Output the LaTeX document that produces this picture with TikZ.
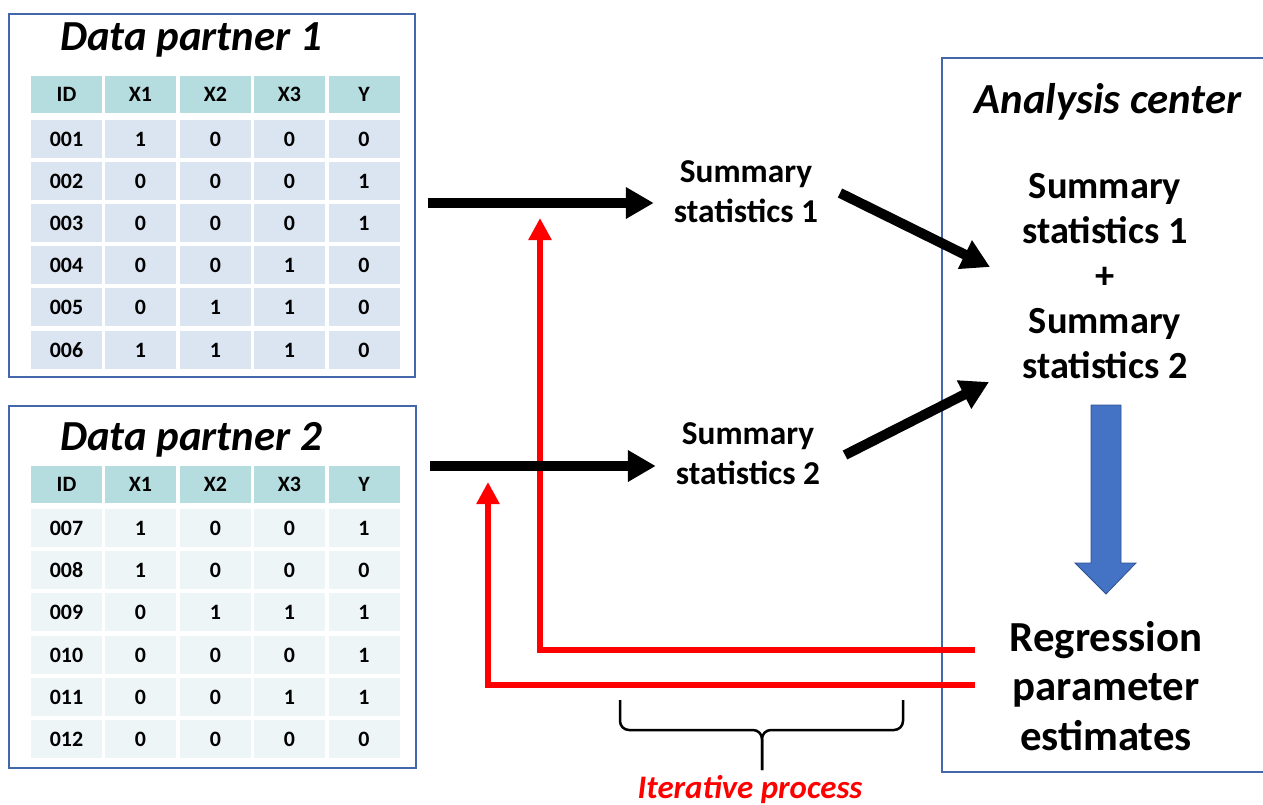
\documentclass[tikz,border=0pt]{standalone}
\usepackage{fontspec}
\setmainfont{Carlito}
\usetikzlibrary{arrows.meta}
\definecolor{boxblue}{HTML}{4466AA}
\definecolor{hdrfill}{HTML}{B5DCDE}
\definecolor{rowA}{HTML}{DBE5F1}
\definecolor{rowB}{HTML}{EEF5F7}
\definecolor{bigarrow}{HTML}{4472C4}
\definecolor{bigarrowline}{HTML}{2F528F}
\definecolor{iterred}{HTML}{FF0000}
\begin{document}
\begin{tikzpicture}[x=1bp,y=-1bp,
  partner/.style={draw=boxblue, line width=1.6bp},
  tcell/.style={minimum width=71bp, inner sep=0pt, font=\fontsize{22}{24}\selectfont\bfseries},
  hdr/.style={tcell, fill=hdrfill, minimum height=37bp},
  cellA/.style={tcell, fill=rowA, minimum height=38bp},
  cellB/.style={tcell, fill=rowB, minimum height=38bp},
  ptitle/.style={font=\fontsize{43}{50}\selectfont\bfseries\itshape, inner sep=0pt},
  midtext/.style={align=center, font=\fontsize{33.5}{40}\selectfont\bfseries, inner sep=0pt},
  blk/.style={line width=10bp, -{Triangle[length=28bp,width=30bp]}},
  redarr/.style={draw=iterred, line width=6bp, -{Triangle[length=22bp,width=22bp]}},
]
\useasboundingbox (0,0) rectangle (1263,805);
\clip (0,0) rectangle (1263,805);

% partner boxes
\draw[partner] (9,14) rectangle (415,377);
\draw[partner] (9,406) rectangle (416,768);
\node[ptitle] (title1) at (191,40) {Data partner 1};
\node[ptitle] (title2) at (191,440) {Data partner 2};

% table 1
\foreach \t/\c/\x in {ID/0/66.5, X1/1/140.5, X2/2/215.5, X3/3/289.5, Y/4/364}
  \node[hdr] (t1-h-\c) at (\x,94.5) {\t};
\foreach \r/\y/\id/\a/\b/\c/\d in {1/139/001/1/0/0/0, 2/181/002/0/0/0/1, 3/223/003/0/0/0/1,
    4/265/004/0/0/1/0, 5/307/005/0/1/1/0, 6/350/006/1/1/1/0} {
  \node[cellA] (t1-\r-0) at (66.5,\y) {\id};
  \node[cellA] (t1-\r-1) at (140.5,\y) {\a};
  \node[cellA] (t1-\r-2) at (215.5,\y) {\b};
  \node[cellA] (t1-\r-3) at (289.5,\y) {\c};
  \node[cellA] (t1-\r-4) at (364,\y) {\d};
}

% table 2
\foreach \t/\c/\x in {ID/0/66.5, X1/1/140.5, X2/2/215.5, X3/3/289.5, Y/4/364}
  \node[hdr] (t2-h-\c) at (\x,484) {\t};
\foreach \r/\y/\id/\a/\b/\c/\d in {1/528/007/1/0/0/1, 2/570/008/1/0/0/0, 3/612/009/0/1/1/1,
    4/655/010/0/0/0/1, 5/697/011/0/0/1/1, 6/739/012/0/0/0/0} {
  \node[cellB] (t2-\r-0) at (66.5,\y) {\id};
  \node[cellB] (t2-\r-1) at (140.5,\y) {\a};
  \node[cellB] (t2-\r-2) at (215.5,\y) {\b};
  \node[cellB] (t2-\r-3) at (289.5,\y) {\c};
  \node[cellB] (t2-\r-4) at (364,\y) {\d};
}

% middle summaries
\node[midtext] (ss1) at (746,192) {Summary\\statistics 1};
\node[midtext] (ss2) at (748,454) {Summary\\statistics 2};

% analysis center
\draw[partner] (942,58) rectangle (1290,772);
\node[ptitle] (ac) at (1108,102) {Analysis center};
\node[align=center, inner sep=0pt, font=\fontsize{38.5}{45}\selectfont\bfseries] (agg) at (1105,276)
  {Summary\\statistics 1\\+\\Summary\\statistics 2};
\node[align=center, inner sep=0pt, font=\fontsize{43}{50}\selectfont\bfseries] (reg) at (1106,686)
  {Regression\\parameter\\estimates};

% big blue arrow
\draw[fill=bigarrow, draw=bigarrowline, line width=0.8bp]
  (1091,405) -- (1121,405) -- (1121,563) -- (1136,563) -- (1106,594) -- (1075,563) -- (1091,563) -- cycle;

% red feedback arrows
\coordinate (r1s) at (975,650);
\coordinate (r1e) at (540,218);
\coordinate (r2s) at (975,685);
\coordinate (r2e) at (488,482);
\draw[redarr] (r1s) -| (r1e);
\draw[redarr] (r2s) -| (r2e);

% black arrows
\coordinate (p1) at (428,203);
\coordinate (p2) at (430,466);
\draw[blk, shorten >=20bp] (p1) -- (p1 -| ss1.west);
\draw[blk, shorten >=20bp] (p2) -- (p2 -| ss2.west);
\coordinate (d1s) at (840,193);
\coordinate (d1e) at (990,267);
\coordinate (d2s) at (845,455);
\coordinate (d2e) at (989,382);
\draw[blk] (d1s) -- (d1e);
\draw[blk] (d2s) -- (d2e);

% brace
\draw[line width=2.5bp, rounded corners=9bp] (620,700) -- (620,730) -- (762,730) -- (762,770);
\draw[line width=2.5bp, rounded corners=9bp] (903,700) -- (903,730) -- (762,730) -- (762,770);
\node[anchor=base, inner sep=0pt, text=iterred, font=\fontsize{33}{38}\selectfont\bfseries\itshape] (iter) at (750,798) {Iterative process};
\end{tikzpicture}
\end{document}
